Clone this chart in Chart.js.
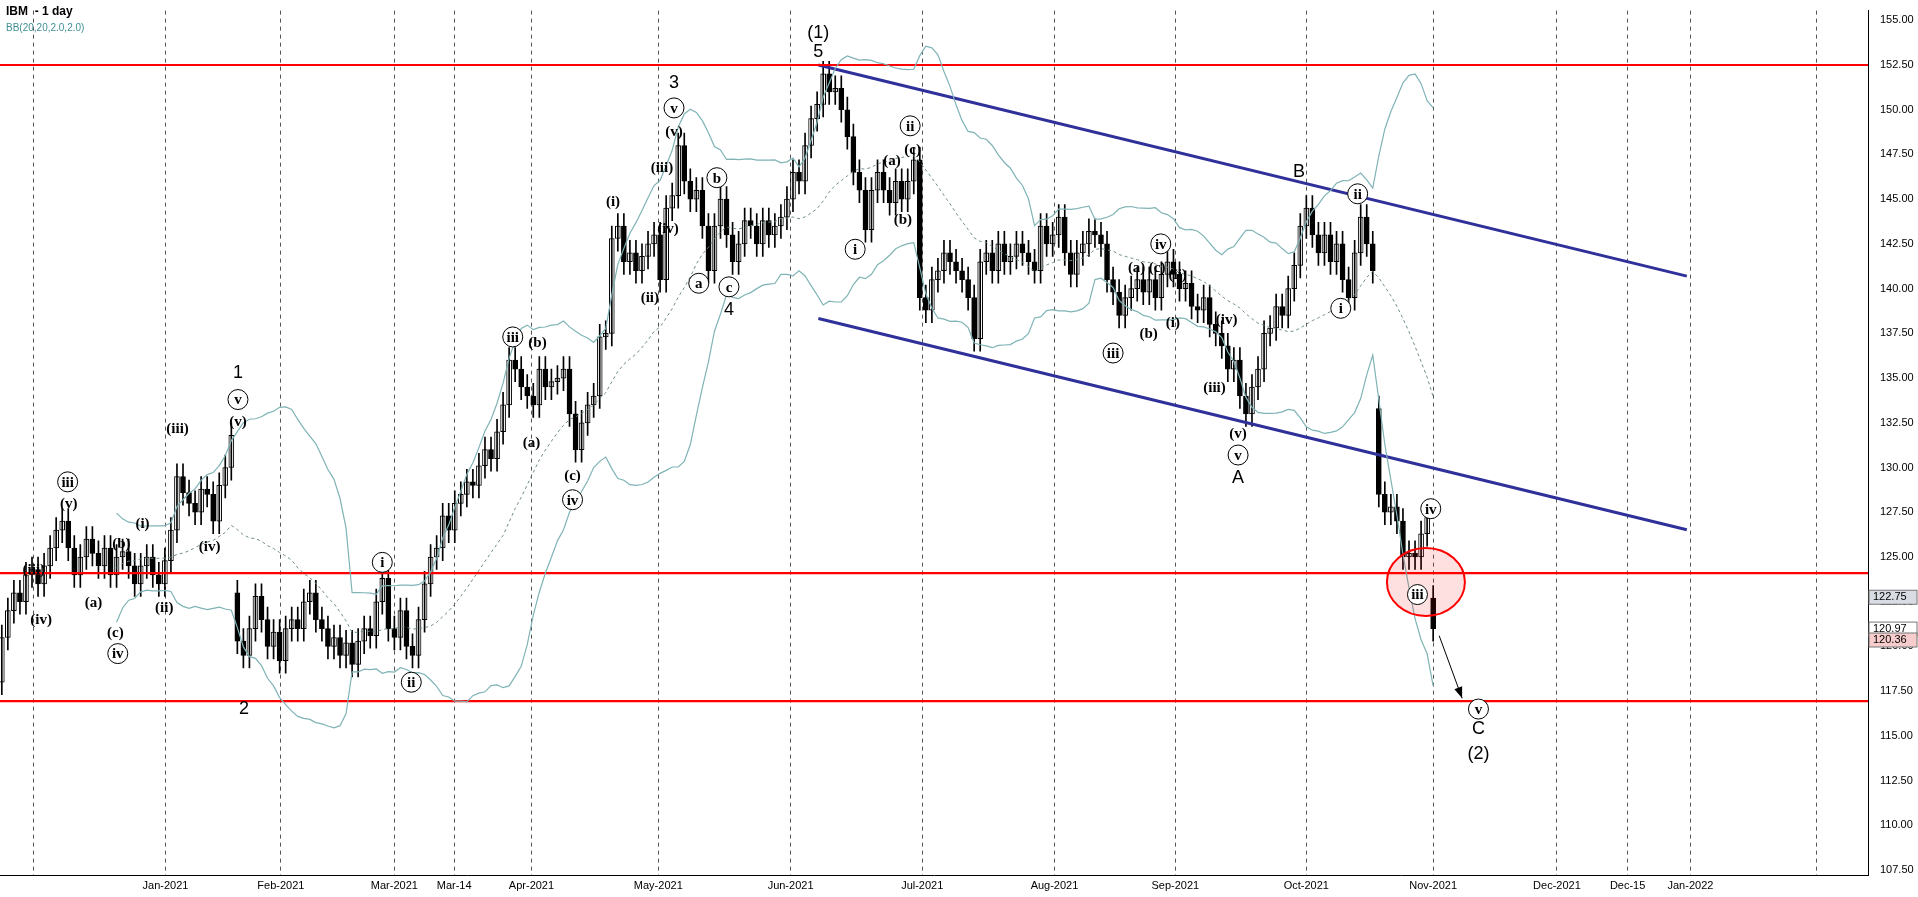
<!DOCTYPE html>
<html>
<head>
<meta charset="utf-8">
<script src="https://cdn.jsdelivr.net/npm/chart.js@4.4.1/dist/chart.umd.min.js"></script>
<style>
  html, body { margin: 0; padding: 0; background: #fff; overflow: hidden; }
</style>
</head>
<body>
<canvas id="ibmChart" width="1918" height="897"></canvas>
<script>
// daily closes, one per trading day (index 0 = late Nov 2020)
const closes = [
  120.5,122,123,122.5,124,124.3,123.5,124.5,125.5,126.5,
  127,125.5,124,125,126,125.2,124.5,125.5,124,125,
  125.3,124.5,123.5,124.5,125,124,123.5,124.8,126.5,129.5,
  128.6,128,127.5,128.8,128.5,127,129,130,131.8,120.3,
  119.5,121,122.8,121.5,120,120.8,119.2,121,121.5,121,
  122.5,123,121.5,121,120,120.5,119.5,120.2,119,120.3,
  121,120.6,122.5,123.8,121,120.5,122,120,119.5,121.5,
  123.5,125,125.5,127.3,126.5,128,128.5,129.2,129,130.1,
  131,130.5,132,133.5,136,135.5,134.5,134,133.5,135.5,
  134.5,134.8,135,135.5,133,131,132.5,133.5,134,137.3,
  137.5,142.8,143.5,141.5,142,141,141.8,142.5,143,140.5,
  144.5,145.2,148,146,145,145.5,143.5,141,143.5,145,
  143,141.5,142.5,143.8,143.5,142.5,143.8,143,143.5,144,
  145,146.5,146,148,149.5,150.3,152,151,151.2,150,
  148.5,146.5,145.5,143.3,145.5,146.5,145.5,144.8,146,145,
  146,147.2,139.5,138.8,140.5,141,142,141.5,141,140.5,
  139.5,137.2,141.5,142,141,142.5,141.5,141.8,142.5,142,
  141.5,141,143.5,142.5,143,144,142,140.8,142,142.5,
  143.2,143,142.5,140.5,139.8,138.5,139.5,140,140.5,139.8,
  140.5,139.5,140.8,141.5,140.8,140,140.3,139,138.8,139.5,
  138,137.5,136.8,135.5,136,134,133,134.5,135.5,137.5,
  137.8,139,138.5,140,141.3,143.5,144.5,143,142,143,
  141.5,142.5,140.5,139.5,142,144,142.5,141,
  128.5,127.5,127.8,127,125,125.2,125,126.3,127.2,121
];
// opening gaps (others open at previous close)
const gapOpens = { 0: 118, 39: 123, 228: 133.3, 237: 122.7 };
const wick = 0.7;

// x tick positions (trading-day index) and their labels
const tickPos = [5.3, 27.1, 46.2, 65, 74.9, 87.7, 108.7, 130.6, 152.4, 174.3, 194.3, 216, 237, 257.5, 269.2, 279.6, 300.4];
const tickText = ["", "Jan-2021", "Feb-2021", "Mar-2021", "Mar-14", "Apr-2021", "May-2021", "Jun-2021", "Jul-2021", "Aug-2021", "Sep-2021", "Oct-2021", "Nov-2021", "Dec-2021", "Dec-15", "Jan-2022", ""];

// horizontal levels and channel
const levels = [152.5, 124.1, 116.94];
const upperChannel = [[135.2, 152.5], [279, 140.7]];
const lowerChannel = [[135.2, 138.33], [279, 126.52]];

// wave labels: text, index, price, circled
const waveLabels = [
  ["(iii)",5.3,124.3,0],["iii",10.9,129.2,1],["(v)",11.1,128.0,0],["(iv)",6.5,121.5,0],["(a)",15.2,122.5,0],
  ["(b)",19.8,125.8,0],["(c)",18.8,120.8,0],["iv",19.2,119.6,1],["(i)",23.3,126.9,0],["(ii)",26.9,122.2,0],
  ["(iii)",29.1,132.2,0],["(iv)",34.4,125.6,0],["v",39.1,133.8,1],["(v)",39.1,132.6,0],
  ["i",63,124.7,1],["ii",67.8,118.0,1],["iii",84.6,137.3,1],["(b)",88.7,137.0,0],["(a)",87.7,131.4,0],
  ["(c)",94.5,129.6,0],["iv",94.5,128.2,1],["(i)",101.2,144.9,0],["(ii)",107.3,139.5,0],["(iii)",109.3,146.8,0],
  ["(iv)",110.3,143.4,0],["(v)",111.3,148.8,0],["v",111.3,150.1,1],["a",115.4,140.3,1],["b",118.4,146.2,1],
  ["c",120.4,140.1,1],["ii",150.4,149.1,1],["(a)",147.4,147.2,0],["(c)",150.8,147.8,0],["(b)",149.2,143.9,0],
  ["i",141.3,142.2,1],["iv",191.9,142.5,1],["(a)",187.9,141.2,0],["(c)",191.3,141.2,0],["(ii)",194.7,140.8,0],
  ["(i)",193.9,138.1,0],["(b)",189.9,137.5,0],["iii",184,136.4,1],["(iv)",202.8,138.3,0],["(iii)",200.8,134.5,0],
  ["(v)",204.7,131.9,0],["v",204.7,130.7,1],["ii",224.5,145.3,1],["i",221.7,138.9,1],["iv",236.6,127.7,1],
  ["iii",234.4,122.9,1],["v",244.5,116.5,1]
];
const bigLabels = [
  ["1",39.1,135.3],["2",40.1,116.5],["3",111.3,151.5],["4",120.4,138.8],["(1)",135.2,154.3],["5",135.2,153.2],
  ["A",204.7,129.4],["B",214.8,146.5],["C",244.5,115.4],["(2)",244.5,114.0]
];
const priceTags = [[122.75, "#d9dde3"], [120.97, "#ffffff"], [120.36, "#f6cccc"]];

const opens = closes.map((c, i) => gapOpens[i] !== undefined ? gapOpens[i] : (i ? closes[i - 1] : c));
const wicks = closes.map((c, i) => ({ x: i, y: [Math.min(opens[i], c) - wick, Math.max(opens[i], c) + wick] }));
const bodies = closes.map((c, i) => ({ x: i, y: [opens[i], c] }));
const bodyFill = closes.map((c, i) => c >= opens[i] ? "#ffffff" : "#000000");

// Bollinger bands 20, 2
const mid = [], upper = [], lower = [];
for (let i = 19; i < closes.length; i++) {
  const w = closes.slice(i - 19, i + 1);
  const m = w.reduce((a, b) => a + b, 0) / 20;
  const sd = Math.sqrt(w.reduce((a, b) => a + (b - m) * (b - m), 0) / 20);
  mid.push({ x: i, y: m }); upper.push({ x: i, y: m + 2 * sd }); lower.push({ x: i, y: m - 2 * sd });
}

const overlay = {
  id: "overlay",
  afterDatasetsDraw(chart) {
    const { ctx, scales: { x, y }, chartArea: a } = chart;
    ctx.save();
    ctx.beginPath(); ctx.rect(a.left, a.top, a.right - a.left, a.bottom - a.top); ctx.clip();
    // ellipse
    ctx.beginPath();
    ctx.ellipse(x.getPixelForValue(235.8), y.getPixelForValue(123.6), 39, 34, 0, 0, 2 * Math.PI);
    ctx.fillStyle = "rgba(255,0,0,0.12)"; ctx.fill();
    ctx.strokeStyle = "#ff0000"; ctx.lineWidth = 2; ctx.stroke();
    // arrow
    const x1 = x.getPixelForValue(238), y1 = y.getPixelForValue(120.6);
    const x2 = x.getPixelForValue(241.8), y2 = y.getPixelForValue(117.1);
    ctx.strokeStyle = "#000"; ctx.lineWidth = 1;
    ctx.beginPath(); ctx.moveTo(x1, y1); ctx.lineTo(x2, y2); ctx.stroke();
    const ang = Math.atan2(y2 - y1, x2 - x1);
    ctx.beginPath(); ctx.moveTo(x2, y2);
    ctx.lineTo(x2 - 12 * Math.cos(ang - 0.35), y2 - 12 * Math.sin(ang - 0.35));
    ctx.lineTo(x2 - 12 * Math.cos(ang + 0.35), y2 - 12 * Math.sin(ang + 0.35));
    ctx.closePath(); ctx.fillStyle = "#000"; ctx.fill();
    // wave labels
    ctx.textAlign = "center"; ctx.textBaseline = "middle";
    ctx.font = "bold 15px 'Liberation Serif'";
    waveLabels.forEach(([t, i, p, c]) => {
      const px = x.getPixelForValue(i), py = y.getPixelForValue(p);
      if (c) {
        ctx.beginPath(); ctx.arc(px, py, 10, 0, 2 * Math.PI);
        ctx.fillStyle = "#fff"; ctx.fill(); ctx.strokeStyle = "#000"; ctx.lineWidth = 1; ctx.stroke();
      }
      ctx.fillStyle = "#000"; ctx.fillText(t, px, py + 1);
    });
    ctx.font = "18px 'Liberation Sans'";
    bigLabels.forEach(([t, i, p]) => ctx.fillText(t, x.getPixelForValue(i), y.getPixelForValue(p)));
    ctx.restore();
    // price tags on the axis
    ctx.save();
    ctx.font = "11px 'Liberation Sans'"; ctx.textBaseline = "middle"; ctx.textAlign = "left";
    priceTags.forEach(([p, col]) => {
      const py = y.getPixelForValue(p);
      ctx.fillStyle = col; ctx.fillRect(a.right + 1, py - 7, 48, 14);
      ctx.strokeStyle = "#777"; ctx.strokeRect(a.right + 1, py - 7, 48, 14);
      ctx.fillStyle = "#000"; ctx.fillText(p.toFixed(2), a.right + 5, py);
    });
    // title
    ctx.font = "bold 12px 'Liberation Sans'"; ctx.fillStyle = "#000";
    ctx.fillText("IBM  - 1 day", 6, 12);
    ctx.font = "10px 'Liberation Sans'"; ctx.fillStyle = "#3f8f95";
    ctx.fillText("BB(20,20,2.0,2.0)", 6, 28);
    ctx.restore();
  }
};

const lineDs = (data, color, width, dash) => ({
  type: "line", data, borderColor: color, borderWidth: width, borderDash: dash || [],
  pointRadius: 0, fill: false, tension: 0
});

new Chart(document.getElementById("ibmChart"), {
  data: {
    datasets: [
      lineDs(upper, "#7fb3b5", 1.2),
      lineDs(lower, "#7fb3b5", 1.2),
      lineDs(mid, "#6f8c8e", 1, [3, 3]),
      ...levels.map(v => lineDs([{ x: -1, y: v }, { x: 320, y: v }], "#ff0000", 2.2)),
      lineDs(upperChannel.map(([a, b]) => ({ x: a, y: b })), "#30309a", 3),
      lineDs(lowerChannel.map(([a, b]) => ({ x: a, y: b })), "#30309a", 3),
      { type: "bar", data: wicks, backgroundColor: "#000", barThickness: 1, grouped: false },
      { type: "bar", data: bodies, backgroundColor: bodyFill, borderColor: "#000", borderWidth: 1,
        borderSkipped: false, barThickness: 5, minBarLength: 2, grouped: false }
    ]
  },
  options: {
    responsive: false, animation: false,
    layout: { padding: 0 },
    plugins: { legend: { display: false }, tooltip: { enabled: false } },
    scales: {
      x: {
        type: "linear", min: -0.3, max: 309, offset: false,
        afterBuildTicks: s => { s.ticks = tickPos.map(v => ({ value: v })); },
        ticks: { callback: (v, i) => tickText[i], autoSkip: false, maxRotation: 0, color: "#000",
          font: { family: "Liberation Sans", size: 11 }, padding: 4 },
        grid: { color: "#555", drawTicks: false, lineWidth: 1, offset: false },
        border: { color: "#000", dash: [4, 4] }
      },
      y: {
        position: "right", min: 107.18, max: 155.54,
        afterBuildTicks: s => {
          const t = []; for (let v = 107.5; v <= 155; v += 2.5) t.push({ value: v }); s.ticks = t;
        },
        afterFit: s => { s.width = 50; },
        ticks: { callback: v => v.toFixed(2), color: "#000", font: { family: "Liberation Sans", size: 11 }, padding: 4 },
        grid: { display: false },
        border: { color: "#000" }
      }
    }
  },
  plugins: [overlay]
});
</script>
</body>
</html>
